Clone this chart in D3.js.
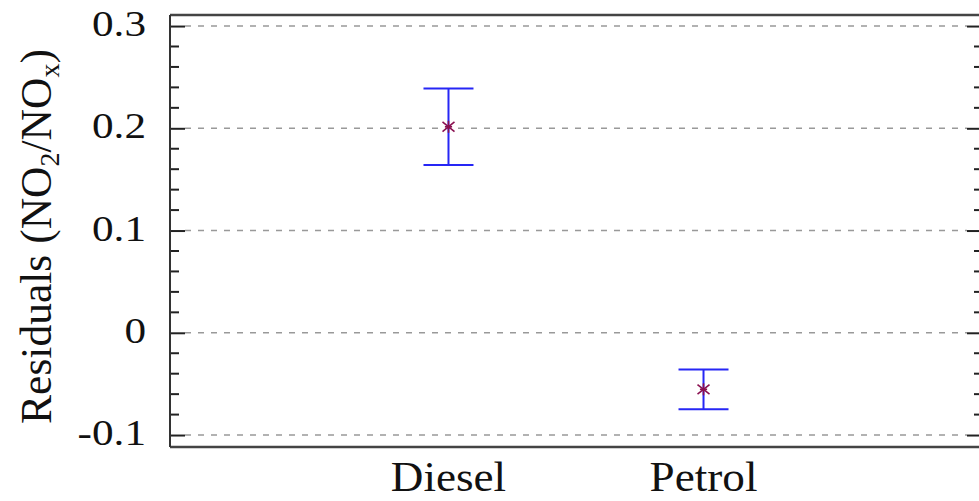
<!DOCTYPE html>
<html><head><meta charset="utf-8">
<script src="https://cdn.jsdelivr.net/npm/d3@7"></script>
<style>body{margin:0;background:#fff}svg{display:block}</style>
</head><body>
<script>
const categories = ["Diesel", "Petrol"];
const means = [0.2015, -0.0553];
const upper = [0.239, -0.0358];
const lower = [0.164, -0.0749];
const yTicks = [-0.1, 0, 0.1, 0.2, 0.3];
const yTickLabels = ["-0.1", "0", "0.1", "0.2", "0.3"];

const W = 979, H = 501;
const L = 170, R = 982, T = 15, B = 447;
const FONT = "'Liberation Serif', 'Times New Roman', Times, serif";
const svg = d3.select("body").append("svg").attr("width", W).attr("height", H);

const y = d3.scaleLinear().domain([-0.1117, 0.3108]).range([B, T]);
const x = d3.scalePoint().domain(categories).range([L, R]).padding(1.092);

// grid
svg.append("g").selectAll("line").data(yTicks).join("line")
  .attr("x1", L + 15).attr("x2", R - 15)
  .attr("y1", d => y(d)).attr("y2", d => y(d))
  .attr("stroke", "#999").attr("stroke-width", 1.5).attr("stroke-dasharray", "6,7");

// minor ticks
const minor = d3.range(-0.1, 0.3001, 0.02).filter(v => !yTicks.some(t => Math.abs(t - v) < 1e-6));
const axL = d3.axisLeft(y).tickValues(yTicks).tickSize(-15).tickFormat((d, i) => yTickLabels[i]).tickPadding(0);
const gL = svg.append("g").attr("transform", `translate(${L},0)`).call(axL);
gL.select(".domain").remove();
gL.selectAll(".tick line").attr("stroke", "#222").attr("stroke-width", 2);
gL.selectAll(".tick text").remove();
gL.selectAll(".minor").data(minor).join("line").attr("class", "minor")
  .attr("x1", 0).attr("x2", 9).attr("y1", d => y(d)).attr("y2", d => y(d))
  .attr("stroke", "#222").attr("stroke-width", 2);

const axR = d3.axisRight(y).tickValues(yTicks).tickSize(-15).tickFormat("");
const gR = svg.append("g").attr("transform", `translate(${R},0)`).call(axR);
gR.select(".domain").remove();
gR.selectAll(".tick line").attr("stroke", "#222").attr("stroke-width", 2);
gR.selectAll(".minor").data(minor).join("line").attr("class", "minor")
  .attr("x1", 0).attr("x2", -8).attr("y1", d => y(d)).attr("y2", d => y(d))
  .attr("stroke", "#222").attr("stroke-width", 2);

// tick labels
svg.append("g").selectAll("text").data(yTicks).join("text")
  .attr("transform", d => `translate(146,${y(d) + 10}) scale(1.2,1)`)
  .attr("text-anchor", "end")
  .attr("font-family", FONT)
  .attr("font-size", 36).attr("fill", "#111")
  .text((d, i) => yTickLabels[i]);

// frame
svg.append("line").attr("x1", L).attr("x2", R).attr("y1", T).attr("y2", T).attr("stroke", "#444").attr("stroke-width", 2.5);
svg.append("line").attr("x1", L).attr("x2", R).attr("y1", B).attr("y2", B).attr("stroke", "#444").attr("stroke-width", 2.5);
svg.append("line").attr("x1", L).attr("x2", L).attr("y1", T).attr("y2", B).attr("stroke", "#333").attr("stroke-width", 2);

// category labels
svg.append("g").selectAll("text").data(categories).join("text")
  .attr("transform", d => `translate(${x(d)},491) scale(1.05,1)`)
  .attr("text-anchor", "middle")
  .attr("font-family", FONT)
  .attr("font-size", 43).attr("fill", "#111")
  .text(d => d);

// y label
const yl = svg.append("text")
  .attr("transform", "translate(51,236.5) rotate(-90)")
  .attr("text-anchor", "middle")
  .attr("font-family", FONT)
  .attr("font-size", 43.5).attr("fill", "#111");
yl.append("tspan").text("Residuals (NO");
yl.append("tspan").attr("font-size", 28).attr("dy", 8).text("2");
yl.append("tspan").attr("dy", -8).text("/NO");
yl.append("tspan").attr("font-size", 28).attr("dy", 8).text("x");
yl.append("tspan").attr("dy", -8).text(")");

// error bars
const eb = svg.append("g").attr("stroke", "#2626f5").attr("stroke-width", 2).attr("fill", "none");
categories.forEach((c, i) => {
  const cx = x(c);
  eb.append("line").attr("x1", cx).attr("x2", cx).attr("y1", y(upper[i])).attr("y2", y(lower[i]));
  eb.append("line").attr("x1", cx - 25).attr("x2", cx + 25).attr("y1", y(upper[i])).attr("y2", y(upper[i]));
  eb.append("line").attr("x1", cx - 25).attr("x2", cx + 25).attr("y1", y(lower[i])).attr("y2", y(lower[i]));
});

// markers
const mk = svg.append("g").attr("stroke", "#8a1050").attr("stroke-width", 1.6);
categories.forEach((c, i) => {
  const cx = x(c), cy = y(means[i]), r = 6;
  mk.append("line").attr("x1", cx).attr("x2", cx).attr("y1", cy - r).attr("y2", cy + r);
  mk.append("line").attr("x1", cx - r).attr("x2", cx + r).attr("y1", cy - r * 0.8).attr("y2", cy + r * 0.8);
  mk.append("line").attr("x1", cx - r).attr("x2", cx + r).attr("y1", cy + r * 0.8).attr("y2", cy - r * 0.8);
  mk.append("line").attr("x1", cx - r * 0.6).attr("x2", cx + r * 0.6).attr("y1", cy).attr("y2", cy);
});
</script>
</body></html>
